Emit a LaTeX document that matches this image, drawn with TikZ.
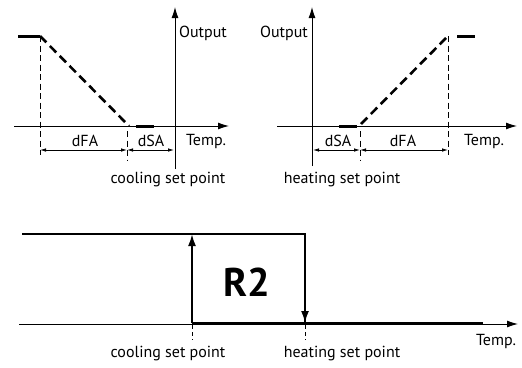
\documentclass[tikz,border=0pt]{standalone}
\usepackage{fontspec}
\setmainfont{PT Sans}
\usetikzlibrary{arrows.meta}
\begin{document}
\begin{tikzpicture}[x=1pt,y=-1pt,
  axis/.style={line width=0.9pt,-{Latex[length=11pt,width=7pt]}},
  thickseg/.style={line width=3pt},
  slope/.style={line width=2.6pt,dash pattern=on 9pt off 5pt},
  guide/.style={line width=0.7pt,dash pattern=on 6pt off 3.5pt},
  sguide/.style={line width=0.7pt,dash pattern=on 4pt off 3pt},
  dimline/.style={line width=0.8pt,{Latex[length=6pt,width=3.5pt]}-{Latex[length=6pt,width=3.5pt]}},
  lvl/.style={line width=2pt},
  lvlarrow/.style={line width=2pt,-{Latex[length=12pt,width=8pt]}},
  lbl/.style={inner sep=0pt,font=\fontsize{16}{18}\selectfont},
  bigl/.style={inner sep=0pt,font=\fontsize{40}{44}\selectfont\bfseries}]
\useasboundingbox (0,0) rectangle (522,367);
% ---------- top left: cooling ----------
\coordinate (Lh0) at (14,126); \coordinate (Lh1) at (229,126);
\coordinate (Lv0) at (175,169); \coordinate (Lv1) at (175,7);
\coordinate (Ltop0) at (18,36); \coordinate (Ltop1) at (40,36);
\coordinate (Lbot) at (129,126);
\coordinate (Lg0) at (40,155);
\coordinate (Ls0) at (127,131); \coordinate (Ls1) at (127,161);
\coordinate (Lt0) at (136,126); \coordinate (Lt1) at (154,126);
\coordinate (Ld0) at (40,150); \coordinate (Ld1) at (127,150); \coordinate (Ld2) at (174,150);
\draw[axis] (Lh0) -- (Lh1);
\draw[axis] (Lv0) -- (Lv1);
\draw[thickseg] (Ltop0) -- (Ltop1);
\draw[slope] (Ltop1) -- (Lbot);
\draw[guide] (Ltop1) -- (Lg0);
\draw[guide] (Ls0) -- (Ls1);
\draw[thickseg] (Lt0) -- (Lt1);
\draw[dimline] (Ld0) -- (Ld1);
\draw[dimline] (Ld1) -- (Ld2);
\node[lbl] (LOut) at (203,33) {Output};
\node[lbl] (LdFA) at (85,141) {dFA};
\node[lbl] (LdSA) at (151,141) {dSA};
\node[lbl] (LTemp) at (206,141) {Temp.};
\node[lbl] (Lcsp) at (168,180) {cooling set point};
% ---------- top right: heating ----------
\coordinate (Rh0) at (277,126); \coordinate (Rh1) at (517,126);
\coordinate (Rv0) at (312,166); \coordinate (Rv1) at (312,7);
\coordinate (Rt0) at (339,126); \coordinate (Rt1) at (357,126);
\coordinate (Rbot) at (361,124); \coordinate (Rtop) at (448,36);
\coordinate (Rtt0) at (457,36); \coordinate (Rtt1) at (475,36);
\coordinate (Rg0) at (448,155);
\coordinate (Rs0) at (360,131); \coordinate (Rs1) at (360,161);
\coordinate (Rd0) at (313,150); \coordinate (Rd1) at (360,150); \coordinate (Rd2) at (448,150);
\draw[axis] (Rh0) -- (Rh1);
\draw[axis] (Rv0) -- (Rv1);
\draw[thickseg] (Rt0) -- (Rt1);
\draw[slope] (Rbot) -- (Rtop);
\draw[thickseg] (Rtt0) -- (Rtt1);
\draw[guide] (Rtop) -- (Rg0);
\draw[guide] (Rs0) -- (Rs1);
\draw[dimline] (Rd0) -- (Rd1);
\draw[dimline] (Rd1) -- (Rd2);
\node[lbl] (ROut) at (284,33) {Output};
\node[lbl] (RdSA) at (338,141) {dSA};
\node[lbl] (RdFA) at (403,141) {dFA};
\node[lbl] (RTemp) at (484,141) {Temp.};
\node[lbl] (Rhsp) at (342,180) {heating set point};
% ---------- bottom: R2 ----------
\coordinate (Bh0) at (19,324); \coordinate (Bh1) at (518,324);
\coordinate (Bt0) at (22,234); \coordinate (Bt1) at (305,234);
\coordinate (Bc0) at (192,323); \coordinate (Bc1) at (192,234);
\coordinate (Bd0) at (305,323);
\coordinate (Be) at (483,323);
\coordinate (Bg0) at (192,325); \coordinate (Bg1) at (192,340);
\coordinate (Bg2) at (305,325); \coordinate (Bg3) at (305,340);
\draw[axis] (Bh0) -- (Bh1);
\draw[lvl] (Bt0) -- (Bt1) -- (Bd0);
\draw[lvl] (Bc0) -- (Be);
\draw[lvlarrow] (Bc0) -- (Bc1);
\draw[lvlarrow] (Bt1) -- (Bd0);
\draw[sguide] (Bg0) -- (Bg1);
\draw[sguide] (Bg2) -- (Bg3);
\node[bigl] (R2) at (247,282) {R2};
\node[lbl] (Bcsp) at (168,354) {cooling set point};
\node[lbl] (Bhsp) at (342,354) {heating set point};
\node[lbl] (BTemp) at (496,341) {Temp.};
\end{tikzpicture}
\end{document}
